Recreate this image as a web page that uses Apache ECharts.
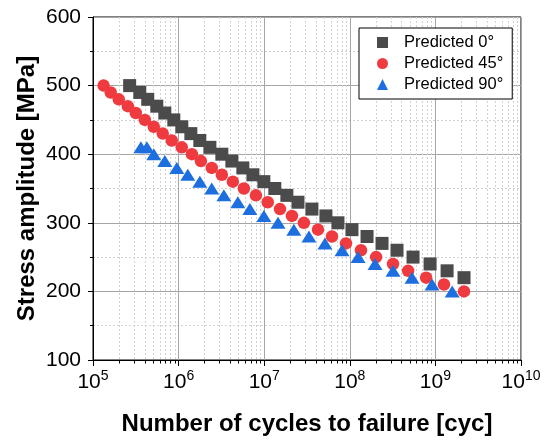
<!DOCTYPE html>
<html>
<head>
<meta charset="utf-8">
<script src="https://cdn.jsdelivr.net/npm/echarts@6/dist/echarts.min.js"></script>
<style>
  html, body { margin: 0; padding: 0; background: #fff; }
  #main { width: 549px; height: 441px; }
</style>
</head>
<body>
<div id="main"></div>
<script>
// values (cycles, stress amplitude in MPa)
var cycles0 = [2.68e5, 3.52e5, 4.36e5, 5.56e5, 6.90e5, 8.79e5, 1.09e6, 1.39e6, 1.77e6, 2.32e6,
  3.20e6, 4.19e6, 5.63e6, 7.38e6, 9.91e6, 1.33e7, 1.84e7, 2.48e7, 3.61e7, 5.26e7,
  7.27e7, 1.06e8, 1.59e8, 2.38e8, 3.56e8, 5.48e8, 8.67e8, 1.37e9, 2.16e9];
var stress0 = [500, 490, 480, 470, 460, 450, 440, 430, 420, 410,
  400, 390, 380, 370, 360, 350, 340, 330, 320, 310,
  300, 290, 280, 270, 260, 250, 240, 230, 220];

var cycles45 = [1.33e5, 1.61e5, 2.00e5, 2.55e5, 3.16e5, 4.03e5, 5.13e5, 6.53e5, 8.32e5, 1.09e6,
  1.43e6, 1.82e6, 2.44e6, 3.20e6, 4.30e6, 5.79e6, 8.00e6, 1.10e7, 1.53e7, 2.11e7,
  2.91e7, 4.25e7, 6.19e7, 9.03e7, 1.35e8, 2.03e8, 3.20e8, 4.80e8, 7.79e8, 1.26e9, 2.16e9];
var stress45 = [500, 490, 480, 470, 460, 450, 440, 430, 420, 410,
  400, 390, 380, 370, 360, 350, 340, 330, 320, 310,
  300, 290, 280, 270, 260, 250, 240, 230, 220, 210, 200];

var cycles90 = [3.63e5, 4.26e5, 5.13e5, 6.90e5, 9.53e5, 1.28e6, 1.77e6, 2.44e6, 3.38e6, 4.92e6,
  6.80e6, 9.91e6, 1.45e7, 2.22e7, 3.33e7, 5.12e7, 8.11e7, 1.25e8, 1.97e8, 3.20e8,
  5.33e8, 9.14e8, 1.57e9];
var stress90 = [410, 410, 400, 390, 380, 370, 360, 350, 340, 330,
  320, 310, 300, 290, 280, 270, 260, 250, 240, 230,
  220, 210, 200];

var seriesNames = ['Predicted 0°', 'Predicted 45°', 'Predicted 90°'];

// minor ticks of the log axis (2..9 in every decade)
var xMinor = [];
for (var d = 5; d < 10; d++) {
  for (var k = 2; k <= 9; k++) xMinor.push(k * Math.pow(10, d));
}

var FONT = '"Liberation Sans", Arial, sans-serif';

function pairs(xs, ys) {
  return xs.map(function (x, i) { return [x, ys[i]]; });
}

var chart = echarts.init(document.getElementById('main'));

chart.setOption({
  animation: false,
  backgroundColor: '#fff',
  textStyle: { fontFamily: FONT },
  grid: {
    left: 93, right: 28, top: 17, bottom: 79,
    show: true, borderColor: '#000', borderWidth: 1
  },
  legend: {
    data: seriesNames,
    orient: 'vertical',
    left: 359, top: 28,
    backgroundColor: '#fff',
    borderColor: '#000', borderWidth: 1, borderRadius: 0,
    padding: [6, 9, 6, 18],
    itemWidth: 11, itemHeight: 11, itemGap: 4,
    textStyle: { fontFamily: FONT, fontSize: 16.5, color: '#000', padding: [0, 0, 0, 11] }
  },
  xAxis: {
    type: 'log', logBase: 10,
    min: 1e5, max: 1e10, splitNumber: 5,
    name: 'Number of cycles to failure [cyc]',
    nameLocation: 'middle', nameGap: 52,
    nameTextStyle: { fontFamily: FONT, fontSize: 24, fontWeight: 'bold', color: '#000' },
    axisLine: { show: true, onZero: false, lineStyle: { color: '#000', width: 1 } },
    axisTick: { show: true, inside: false, length: 6, lineStyle: { color: '#000' } },
    axisLabel: {
      margin: 9,
      formatter: function (v) {
        return '{a|10}{b|' + Math.round(Math.log10(v)) + '}';
      },
      rich: {
        a: { fontFamily: FONT, fontSize: 21, color: '#000' },
        b: { fontFamily: FONT, fontSize: 14, color: '#000', padding: [0, 0, 12, 0] }
      }
    },
    splitLine: { show: true, lineStyle: { color: '#a6a6a6', width: 1 } }
  },
  yAxis: {
    type: 'value',
    min: 100, max: 600, interval: 100,
    name: 'Stress amplitude [MPa]',
    nameLocation: 'middle', nameGap: 54,
    nameMoveOverlap: false,
    nameTextStyle: { fontFamily: FONT, fontSize: 24, fontWeight: 'bold', color: '#000' },
    axisLine: { show: true, lineStyle: { color: '#000', width: 1 } },
    axisTick: { show: true, inside: false, length: 5, lineStyle: { color: '#000' } },
    minorTick: { show: true, splitNumber: 2, length: 3, lineStyle: { color: '#000' } },
    axisLabel: { fontFamily: FONT, fontSize: 21, color: '#000', margin: 12 },
    splitLine: { show: true, lineStyle: { color: '#a6a6a6', width: 1 } },
    minorSplitLine: { show: true, lineStyle: { color: '#d2d2d2', width: 1, type: [2, 2] } }
  },
  series: [
    {
      type: 'custom',
      silent: true,
      clip: false,
      z: 1,
      data: xMinor.map(function (v) { return [v, 100]; }),
      renderItem: function (params, api) {
        var v = api.value(0);
        var top = api.coord([v, 600]);
        var bot = api.coord([v, 100]);
        var x = Math.round(bot[0]) + 0.5;
        return {
          type: 'group',
          children: [
            {
              type: 'line',
              shape: { x1: x, y1: top[1], x2: x, y2: bot[1] },
              style: { stroke: '#d2d2d2', lineWidth: 1, lineDash: [2, 2] }
            },
            {
              type: 'line',
              shape: { x1: x, y1: bot[1], x2: x, y2: bot[1] + 3.5 },
              style: { stroke: '#000', lineWidth: 1 }
            }
          ]
        };
      }
    },
    {
      name: seriesNames[0],
      type: 'scatter',
      symbol: 'rect',
      symbolSize: 13,
      itemStyle: { color: '#4b4b4b', opacity: 1 },
      data: pairs(cycles0, stress0)
    },
    {
      name: seriesNames[1],
      type: 'scatter',
      symbol: 'circle',
      symbolSize: 12.5,
      itemStyle: { color: '#ef3b3f', opacity: 1 },
      data: pairs(cycles45, stress45)
    },
    {
      name: seriesNames[2],
      type: 'scatter',
      symbol: 'triangle',
      symbolSize: [15, 12],
      itemStyle: { color: '#1d6fdf', opacity: 1 },
      data: pairs(cycles90, stress90)
    }
  ]
});
</script>
</body>
</html>
